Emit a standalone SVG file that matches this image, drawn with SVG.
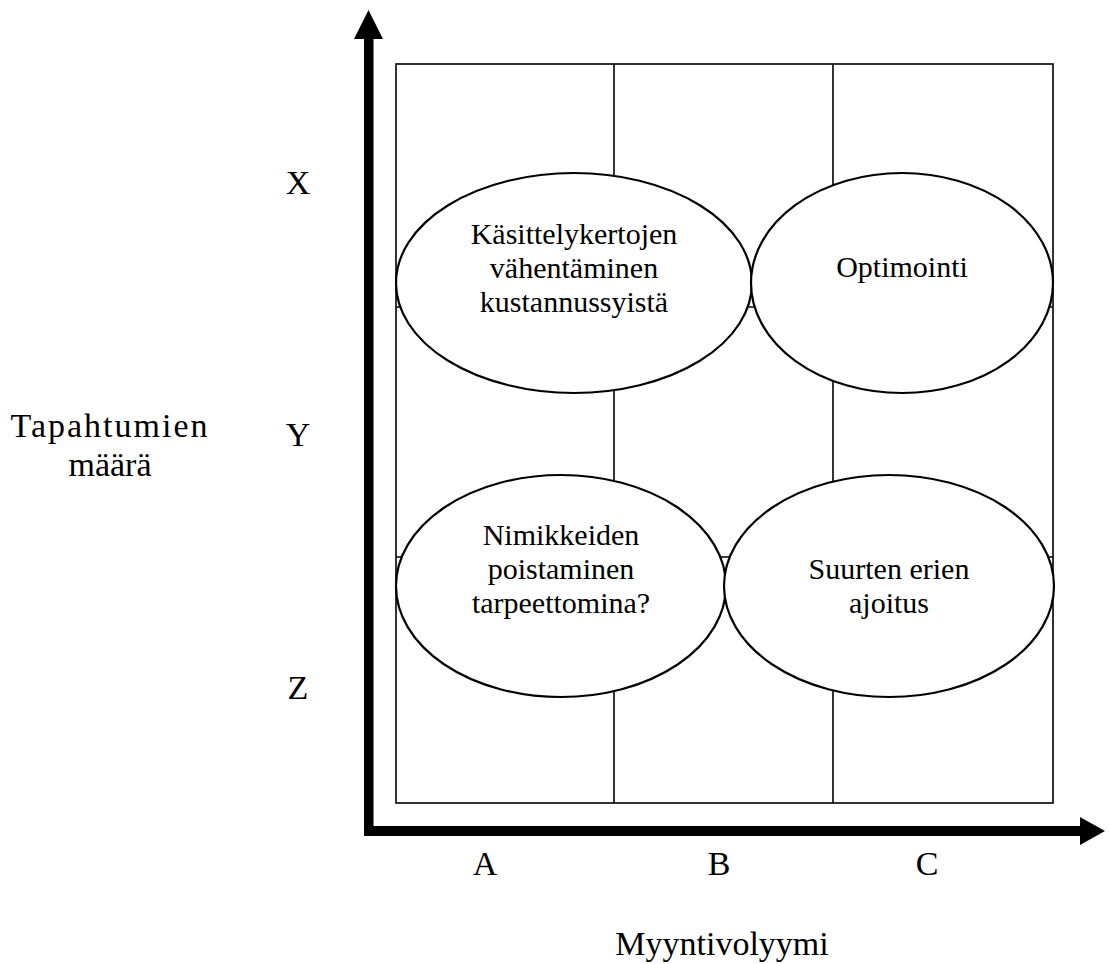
<svg xmlns="http://www.w3.org/2000/svg" width="1109" height="964" viewBox="0 0 1109 964">
<style>
.grid{fill:none;stroke:#000;stroke-width:1.6}
.node ellipse{fill:#fff;stroke:#000;stroke-width:2.2}
.t{font-family:"Liberation Serif","Times New Roman",serif;font-size:30px;fill:#000;text-anchor:middle}
.lab{font-family:"Liberation Serif","Times New Roman",serif;font-size:34px;fill:#000;text-anchor:middle}
.axis{fill:#000;stroke:none}
</style>
<rect width="1109" height="964" fill="#fff"/>
<g id="grid">
<rect class="grid" x="396" y="64" width="657" height="739"/>
<line class="grid" x1="614" y1="64" x2="614" y2="803"/>
<line class="grid" x1="833" y1="64" x2="833" y2="803"/>
<line class="grid" x1="396" y1="307" x2="1053" y2="307"/>
<line class="grid" x1="396" y1="557" x2="1053" y2="557"/>
</g>
<g id="axes">
<rect class="axis" x="364" y="38" width="9.5" height="798"/>
<polygon class="axis" points="354,39 383,39 368.5,10"/>
<rect class="axis" x="364" y="826" width="718" height="10"/>
<polygon class="axis" points="1080,817 1080,845 1105,831"/>
</g>
<g id="node-kasittely" class="node">
<ellipse cx="574" cy="283" rx="178" ry="110"/>
<text class="t" x="574" y="244">Käsittelykertojen</text>
<text class="t" x="574" y="278">vähentäminen</text>
<text class="t" x="574" y="312">kustannussyistä</text>
</g>
<g id="node-optimointi" class="node">
<ellipse cx="902" cy="283" rx="151" ry="110"/>
<text class="t" x="902" y="277">Optimointi</text>
</g>
<g id="node-nimikkeiden" class="node">
<ellipse cx="561" cy="586" rx="165" ry="111"/>
<text class="t" x="561" y="545">Nimikkeiden</text>
<text class="t" x="561" y="579">poistaminen</text>
<text class="t" x="561" y="613">tarpeettomina?</text>
</g>
<g id="node-suurten" class="node">
<ellipse cx="889" cy="586" rx="165" ry="111"/>
<text class="t" x="889" y="579">Suurten erien</text>
<text class="t" x="889" y="613">ajoitus</text>
</g>
<g id="labels">
<text class="lab" x="298" y="194">X</text>
<text class="lab" x="298" y="446">Y</text>
<text class="lab" x="298" y="699">Z</text>
<text class="lab" x="485" y="875">A</text>
<text class="lab" x="719" y="875">B</text>
<text class="lab" x="927" y="875">C</text>
<text class="lab" x="722" y="955" font-size="35">Myyntivolyymi</text>
<text class="lab" x="110" y="437" style="letter-spacing:2px" font-size="35">Tapahtumien</text>
<text class="lab" x="110" y="476" font-size="35">määrä</text>
</g>
</svg>
